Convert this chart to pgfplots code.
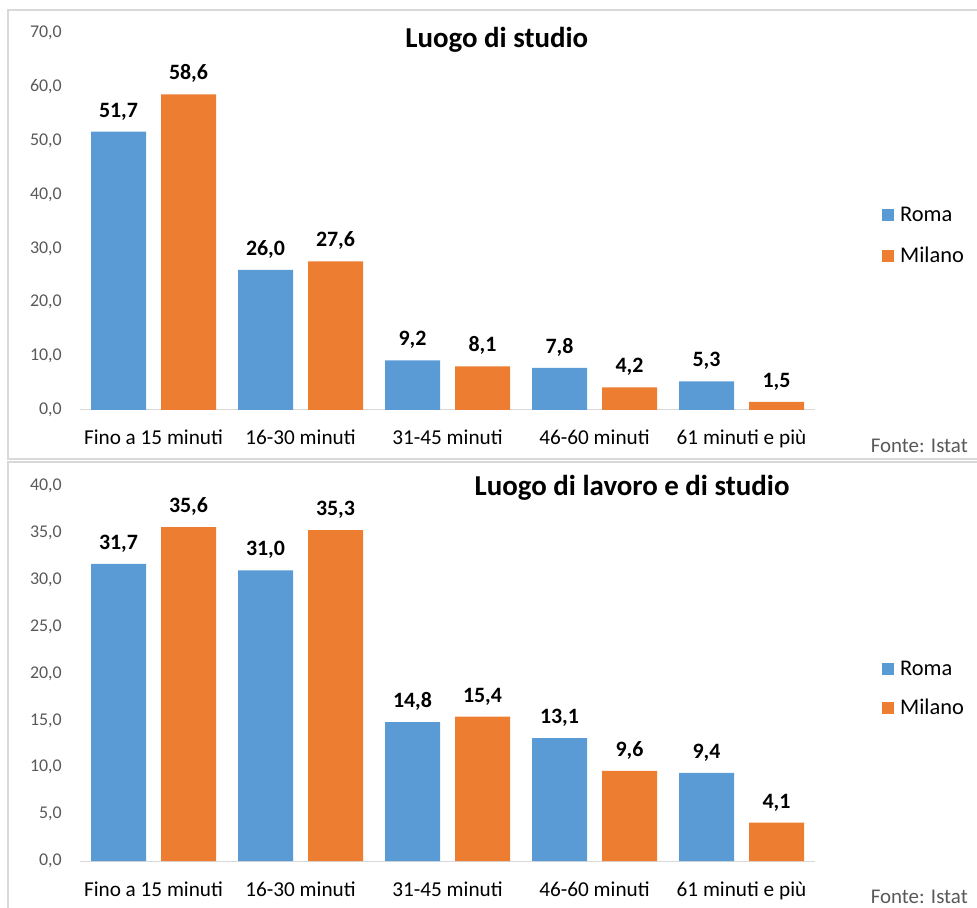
\documentclass[border=0pt]{standalone}
\usepackage{pgfplots}
\pgfplotsset{compat=1.18}
\usepackage{fontspec}
\setmainfont{Carlito}
\definecolor{roma}{HTML}{5B9BD5}
\definecolor{milano}{HTML}{ED7D31}
\definecolor{tickgray}{HTML}{595959}
\definecolor{framegray}{HTML}{D9D9D9}
\pgfplotsset{
 panel/.style={
  scale only axis, width=735bp, xmin=-0.5, xmax=4.5,
  ybar=15bp, bar width=55bp, ymin=0,
  axis lines*=left, y axis line style={draw=none},
  x axis line style={draw=framegray, line width=1bp},
  major tick length=0,
  xtick={0,...,4},
  xticklabels={Fino a 15 minuti,16-30 minuti,31-45 minuti,46-60 minuti,61 minuti e più},
  xticklabel style={font=\fontsize{21.3}{25}\selectfont, anchor=base, yshift=-35bp, inner sep=0pt},
  yticklabel style={font=\fontsize{18}{22}\selectfont, text=tickgray, anchor=east, inner sep=0pt, xshift=-18bp},
  /pgf/number format/fixed, /pgf/number format/fixed zerofill,
  /pgf/number format/precision=1, /pgf/number format/use comma,
  /pgf/number format/assume math mode=true,
  nodes near coords,
  every node near coord/.append style={font=\bfseries\fontsize{22}{26}\selectfont, anchor=base, yshift=14.5bp, text=black},
  clip=false,
  legend style={draw=none, fill=none, anchor=west, inner sep=0pt, font=\fontsize{22.5}{26}\selectfont, row sep=20bp, cells={anchor=west}},
  legend image code/.code={\fill[##1] (0bp,-6bp) rectangle (12bp,6bp); \path (16bp,0bp);},
  title style={font=\bfseries\fontsize{29}{34}\selectfont, anchor=center},
 }
}
\begin{document}
\begin{tikzpicture}
\useasboundingbox (0,0) rectangle (977bp,908bp);
\draw[framegray, line width=1.2bp] (8bp,449bp) rectangle (990bp,898bp);
\draw[framegray, line width=1.2bp] (8bp,-5bp) rectangle (990bp,446bp);
\begin{axis}[panel, at={(80bp,498bp)}, anchor=south west, height=377bp,
  ymax=70, ytick={0,10,...,70},
  title={Luogo di studio}, title style={at={(0.567,0.9655)}},
  legend style={at={(1.091,0.462)}}]
\addplot[fill=roma, draw=none] coordinates {(0,51.7)(1,26.0)(2,9.2)(3,7.8)(4,5.3)};
\addplot[fill=milano, draw=none] coordinates {(0,58.6)(1,27.6)(2,8.1)(3,4.2)(4,1.5)};
\legend{Roma,Milano}
\end{axis}
\node[anchor=east, text=tickgray, font=\fontsize{21}{25}\selectfont, inner sep=0pt] at (968bp,462bp) {Fonte: Istat};
\begin{axis}[panel, at={(80bp,47bp)}, anchor=south west, height=375bp,
  ymax=40, ytick={0,5,...,40},
  title={Luogo di lavoro e di studio}, title style={at={(0.751,0.979)}},
  legend style={at={(1.091,0.459)}, row sep=18bp}]
\addplot[fill=roma, draw=none] coordinates {(0,31.7)(1,31.0)(2,14.8)(3,13.1)(4,9.4)};
\addplot[fill=milano, draw=none] coordinates {(0,35.6)(1,35.3)(2,15.4)(3,9.6)(4,4.1)};
\legend{Roma,Milano}
\end{axis}
\node[anchor=east, text=tickgray, font=\fontsize{21}{25}\selectfont, inner sep=0pt] at (968bp,11bp) {Fonte: Istat};
\end{tikzpicture}
\end{document}
